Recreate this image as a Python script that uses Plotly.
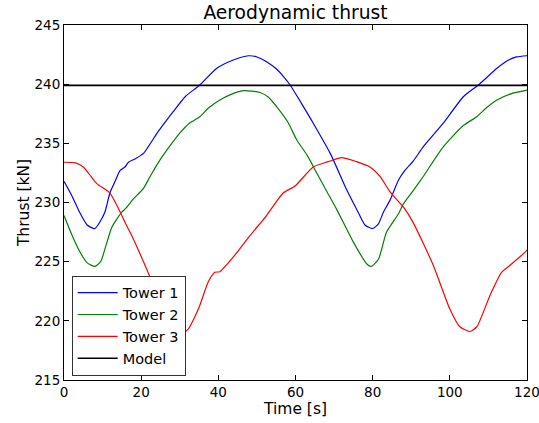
import plotly.graph_objects as go

# Tower 1
t1 = [0, 2, 4, 6, 8, 9.3, 10.6, 11.9, 13.2, 14.5, 15.8, 16.7, 18.5, 20.6, 24, 28.3, 31.4, 35.2, 39.6, 43.9, 47.8, 50, 52.5, 55, 57, 58.6, 61.5, 64.6, 69, 73.3, 76.2, 78, 80, 81.5, 82.8, 84.5, 86.7, 88.4, 90.5, 93.1, 98.3, 103.5, 107.4, 112.2, 115, 117.3, 120]
v1 = [231.8, 230.6, 229.2, 228.1, 227.8, 228.35, 229.2, 230.8, 231.75, 232.7, 233.0, 233.4, 233.7, 234.15, 235.8, 237.67, 238.94, 239.93, 241.34, 242.04, 242.4, 242.3, 241.9, 241.3, 240.6, 239.93, 238.4, 236.7, 234.15, 231.05, 229.2, 228.1, 227.8, 228.2, 229.2, 230.2, 231.9, 232.74, 233.5, 234.7, 236.7, 238.94, 239.93, 241.34, 242.0, 242.3, 242.4]

# Tower 2
t2 = [0, 2, 4, 6, 8, 9.5, 11, 12.4, 15, 16, 18, 20.6, 22.5, 24.9, 27.5, 30.1, 32.5, 35.2, 37.5, 40.4, 43, 46.5, 50.8, 53, 55.1, 58, 60.3, 63, 65.5, 68, 70.7, 75, 78.5, 79.6, 81.5, 83.6, 86.7, 88, 90.5, 93.1, 98.3, 103.5, 107, 109.5, 112.2, 116, 119.5, 120]
v2 = [228.9, 227.3, 225.9, 224.9, 224.6, 225.0, 226.5, 227.9, 229.2, 229.5, 230.3, 231.2, 232.3, 233.6, 234.8, 235.9, 236.7, 237.25, 238.0, 238.66, 239.1, 239.45, 239.3, 238.9, 238.1, 236.8, 235.3, 234.0, 232.5, 231.0, 229.4, 226.65, 224.8, 224.6, 225.2, 227.5, 229.05, 229.9, 231.0, 232.2, 234.7, 236.5, 237.25, 238.0, 238.66, 239.2, 239.45, 239.5]

# Tower 3
t3 = [0, 3, 5, 7, 8.5, 11.9, 14.1, 16, 18, 20.6, 22.7, 25, 27.5, 29.5, 31, 32.2, 33.7, 35.2, 37.4, 39.1, 40.4, 43.9, 48.2, 52.5, 56.8, 59.9, 64.6, 68.5, 72, 75.8, 79.3, 81.9, 84.5, 88, 90.5, 95.7, 100, 102.6, 105.2, 107, 110.4, 113.4, 115.6, 119.5, 120]
v3 = [233.4, 233.35, 233.0, 232.2, 231.6, 230.8, 229.5, 228.2, 226.9, 225.0, 223.4, 221.8, 220.3, 219.2, 219.05, 219.3, 220.2, 221.3, 223.3, 224.1, 224.15, 225.4, 227.2, 228.9, 230.8, 231.4, 233.0, 233.45, 233.8, 233.45, 233.0, 232.2, 230.9, 229.6, 228.3, 224.7, 221.0, 219.5, 219.1, 219.5, 222.15, 224.1, 224.7, 225.8, 226.0]

# Model
t_model = [0, 120]
v_model = [239.9, 239.9]

x_ticks = [0, 20, 40, 60, 80, 100, 120]
y_ticks = [215, 220, 225, 230, 235, 240, 245]

FONT = "DejaVu Sans"

fig = go.Figure()
fig.add_trace(go.Scatter(x=t1, y=v1, mode="lines", name="Tower 1",
                         line=dict(color="#0000ff", width=1.2, shape="spline", smoothing=0.6)))
fig.add_trace(go.Scatter(x=t2, y=v2, mode="lines", name="Tower 2",
                         line=dict(color="#008000", width=1.2, shape="spline", smoothing=0.6)))
fig.add_trace(go.Scatter(x=t3, y=v3, mode="lines", name="Tower 3",
                         line=dict(color="#ff0000", width=1.2, shape="spline", smoothing=0.6)))
fig.add_trace(go.Scatter(x=t_model, y=v_model, mode="lines", name="Model",
                         line=dict(color="#000000", width=1.6)))

axis_common = dict(
    showgrid=False, zeroline=False, showline=True, linecolor="black", linewidth=1,
    mirror="ticks", ticks="inside", ticklen=5, tickcolor="black", tickwidth=1,
    tickfont=dict(family=FONT, size=13.5, color="black"), automargin=False,
    ticklabeloverflow="allow",
)

fig.update_layout(
    width=539, height=423,
    margin=dict(l=64, r=12, t=25, b=43),
    paper_bgcolor="white", plot_bgcolor="white",
    font=dict(family=FONT, color="black"),
    title=dict(text="Aerodynamic thrust", xref="paper", x=0.5, xanchor="center",
               yref="container", y=0.97, yanchor="middle",
               font=dict(family=FONT, size=18.7, color="black")),
    xaxis=dict(range=[0, 120], tickvals=x_ticks, ticktext=[str(v) for v in x_ticks],
               title=dict(text="Time [s]", font=dict(family=FONT, size=15.5), standoff=3),
               **axis_common),
    yaxis=dict(range=[215, 245], tickvals=y_ticks, ticktext=[str(v) for v in y_ticks],
               title=dict(text="Thrust [kN]", font=dict(family=FONT, size=15.5), standoff=1),
               **axis_common),
    legend=dict(x=0.0166, y=0.012, xanchor="left", yanchor="bottom",
                bgcolor="white", bordercolor="#333333", borderwidth=1,
                font=dict(family=FONT, size=14.5, color="black"),
                tracegroupgap=0, itemwidth=40),
    showlegend=True,
)

fig.write_html("out.html")
